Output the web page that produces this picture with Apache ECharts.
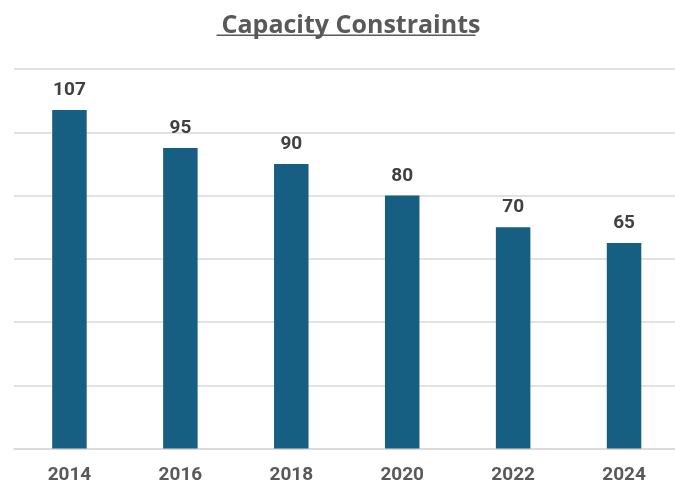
<!DOCTYPE html>
<html>
<head>
<meta charset="utf-8">
<title>Capacity Constraints</title>
<script src="https://cdn.jsdelivr.net/npm/echarts@6/dist/echarts.min.js"></script>
<style>
  html, body { margin: 0; padding: 0; background: #ffffff; }
  #chart { width: 675px; height: 485px; }
</style>
</head>
<body>
<div id="chart"></div>
<script>
// Year categories and the matching capacity values
const years = ['2014', '2016', '2018', '2020', '2022', '2024'];
const capacity = [107, 95, 90, 80, 70, 65];

// Value axis range
const axisMin = 0;
const axisMax = 120;
const axisStep = 20;

const titleText = 'Capacity Constraints';

const FONT = 'Roboto, "Liberation Sans", Arial, sans-serif';
const TITLE_FONT = '"Open Sans", Roboto, "Liberation Sans", sans-serif';
const TITLE_SIZE = 25;
const TITLE_CENTER = 346;

// Width of the title text, used for its underline
function textWidth(text, font) {
  const ctx = document.createElement('canvas').getContext('2d');
  ctx.font = font;
  return ctx.measureText(text).width;
}
const titleWidth = textWidth(titleText, 'bold ' + TITLE_SIZE + 'px ' + TITLE_FONT);

const chart = echarts.init(document.getElementById('chart'), null, { renderer: 'canvas' });

chart.setOption({
  animation: false,
  backgroundColor: '#ffffff',
  title: {
    text: titleText,
    left: TITLE_CENTER,
    top: 8,
    textAlign: 'center',
    textStyle: {
      fontFamily: TITLE_FONT,
      fontSize: TITLE_SIZE,
      fontWeight: 'bold',
      color: '#595959'
    }
  },
  grid: {
    left: 14,
    top: 69,
    width: 665.5,
    bottom: 36.5,
    containLabel: false,
    outerBoundsMode: 'none'
  },
  xAxis: {
    type: 'category',
    data: years,
    axisLine: { show: true, lineStyle: { color: '#d9d9d9', width: 1.5 } },
    axisTick: { show: false },
    axisLabel: {
      margin: 17,
      fontFamily: FONT,
      fontSize: 19,
      fontWeight: 'bold',
      color: '#595959'
    }
  },
  yAxis: {
    type: 'value',
    min: axisMin,
    max: axisMax,
    interval: axisStep,
    axisLine: { show: false },
    axisTick: { show: false },
    axisLabel: { show: false },
    splitLine: { show: true, lineStyle: { color: '#d9d9d9', width: 1.5 } }
  },
  series: [{
    type: 'bar',
    data: capacity,
    barWidth: 34.5,
    itemStyle: { color: '#165e82' },
    label: {
      show: true,
      position: 'top',
      distance: 10,
      fontFamily: FONT,
      fontSize: 19,
      fontWeight: 'bold',
      color: '#404040'
    }
  }],
  graphic: [{
    // underline beneath the title
    type: 'rect',
    shape: { x: TITLE_CENTER - titleWidth / 2, y: 34.5, width: titleWidth, height: 1.5 },
    style: { fill: '#595959' },
    silent: true
  }]
});
</script>
</body>
</html>
